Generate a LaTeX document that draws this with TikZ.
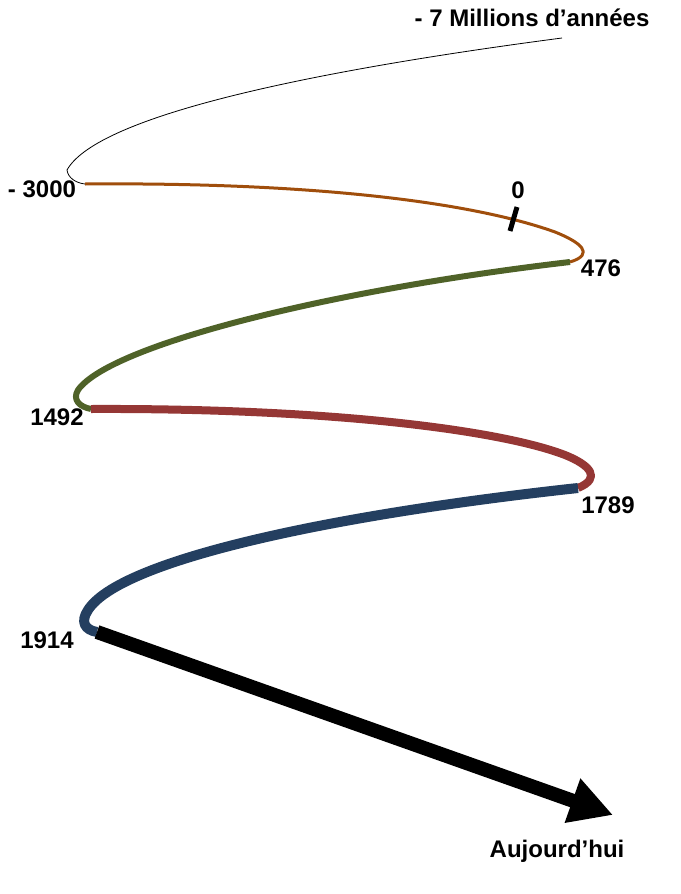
\documentclass[tikz,border=0pt]{standalone}
\usepackage{fontspec}
\setmainfont{Liberation Sans}
\usetikzlibrary{arrows.meta}
\definecolor{cOrange}{RGB}{160,78,12}
\definecolor{cGreen}{RGB}{79,98,40}
\definecolor{cRed}{RGB}{149,55,53}
\definecolor{cBlue}{RGB}{36,63,96}
\tikzset{
  lbl/.style={font=\bfseries\fontsize{24}{28}\selectfont, inner sep=0pt},
  era/.style={line cap=butt, line join=round},
}
\begin{document}
\begin{tikzpicture}[x=1pt,y=-1pt]
\useasboundingbox (0,0) rectangle (680,894);
% junction points
\coordinate (c7m) at (562,38);
\coordinate (c3000) at (85,184);
\coordinate (c476) at (570,262);
\coordinate (c1492) at (91,409);
\coordinate (c1789) at (578,488);
\coordinate (c1914) at (97,632);
\coordinate (cnow) at (613,815);
\coordinate (tickA) at (510,231);
\coordinate (tickB) at (517,207);
% thin prehistory curve
\draw[black, line width=0.8pt] (c7m) .. controls (280,75) and (95,120) .. (67,170)
   .. controls (68,178) and (76,183) .. (c3000);
% antiquity
\draw[era, cOrange, line width=3pt] (c3000) .. controls (330,182) and (480,205) .. (555,232)
   .. controls (580,242) and (596,254) .. (c476);
% tick at 0
\draw[black, line width=5pt] (tickA) -- (tickB);
% middle ages
\draw[era, cGreen, line width=6pt] (c476) .. controls (330,290) and (110,345) .. (78,390)
   .. controls (72,400) and (80,407) .. (c1492);
% modern times
\draw[era, cRed, line width=8pt] (c1492) .. controls (330,408) and (500,430) .. (565,455)
   .. controls (590,465) and (602,478) .. (c1789);
% contemporary
\draw[era, cBlue, line width=10pt] (c1789) .. controls (330,515) and (120,560) .. (88,610)
   .. controls (80,622) and (85,630) .. (c1914);
% arrow to today
\draw[black, line width=14pt, -{Triangle[length=43pt,width=44pt]}] (c1914) -- (cnow);
% labels
\node[lbl] (l7m) at (532,18) {- 7 Millions d’années};
\node[lbl] (l3000) at (42,189) {- 3000};
\node[lbl] (l0) at (518,190) {0};
\node[lbl] (l476) at (601,268) {476};
\node[lbl] (l1492) at (57,417) {1492};
\node[lbl] (l1789) at (608,505) {1789};
\node[lbl] (l1914) at (47,640) {1914};
\node[lbl] (lnow) at (557,851) {Aujourd’hui};
\end{tikzpicture}
\end{document}
